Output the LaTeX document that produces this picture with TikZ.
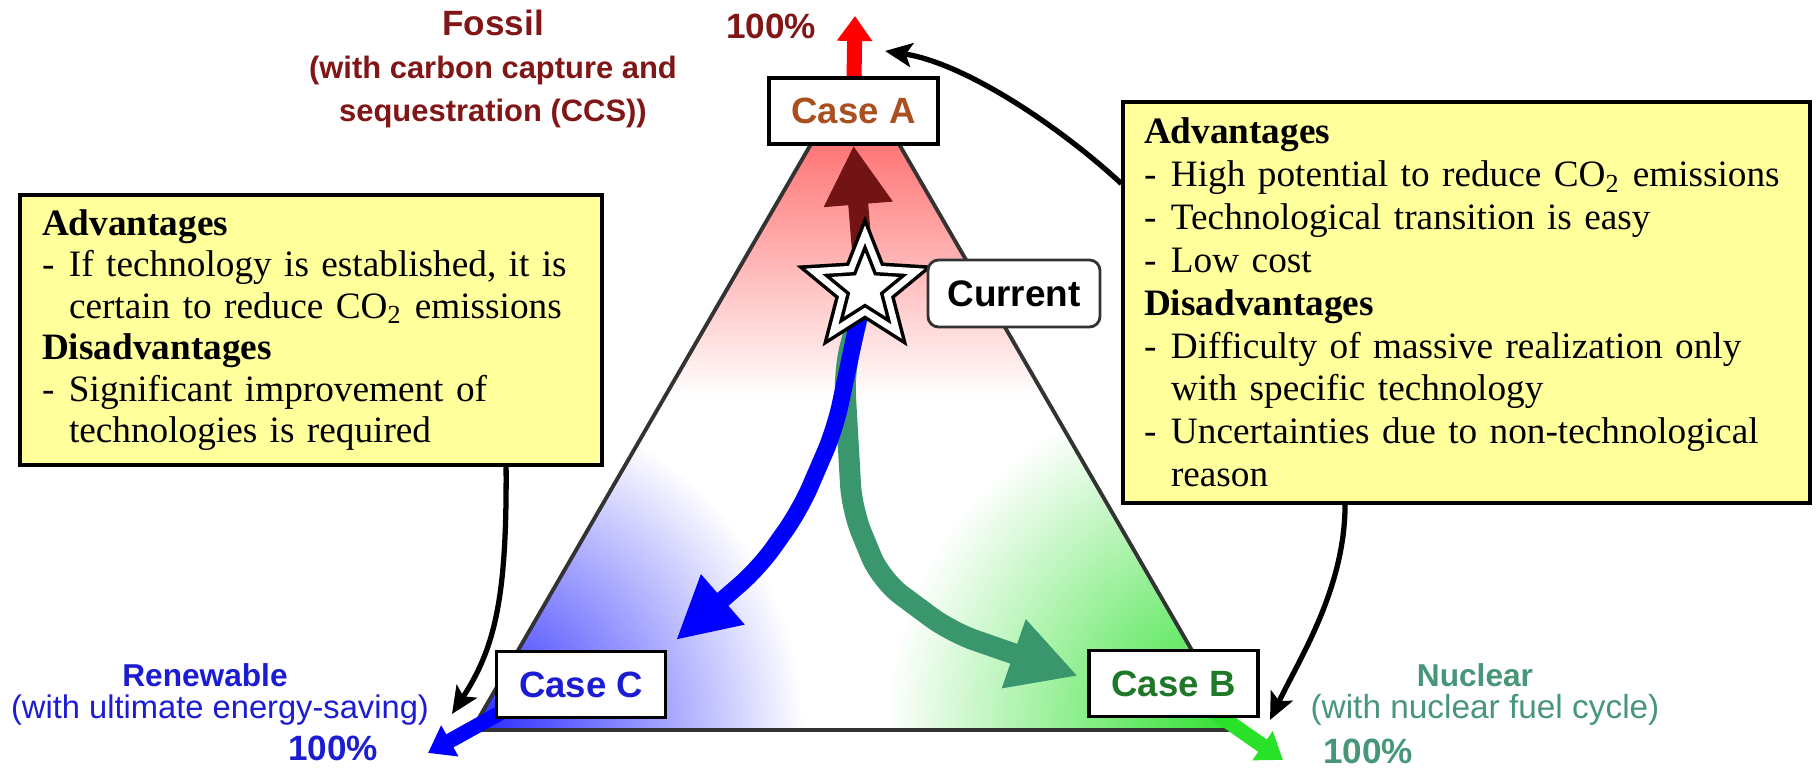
\documentclass[tikz,border=0pt]{standalone}
\usepackage{fontspec}
\setmainfont{Liberation Serif}
\setsansfont{Liberation Sans}
\usetikzlibrary{arrows.meta, shapes.geometric, fadings}

\definecolor{fossilred}{RGB}{128,22,22}
\definecolor{caseAcol}{RGB}{170,80,32}
\definecolor{renblue}{RGB}{28,28,210}
\definecolor{nucgreen}{RGB}{72,150,120}
\definecolor{caseBcol}{RGB}{30,120,40}
\definecolor{pathgreen}{RGB}{58,150,108}
\definecolor{outgreen}{RGB}{40,225,40}
\definecolor{cornergreen}{RGB}{45,225,45}
\definecolor{notebg}{RGB}{255,255,155}

\tikzfading[name = cornerfade, inner color = transparent!0, outer color = transparent!100]
\pgfdeclarelayer{back}
\pgfsetlayers{back,main}

\newcommand{\itm}{\makebox[0.27cm][l]{-}}
\newcommand{\gap}{\hspace*{0.27cm}}

\begin{document}
\begin{tikzpicture}[scale = 1,
  casebox/.style = {draw = black, fill = white, line width = 0.9pt, minimum width = 1.69cm, minimum height = 0.66cm, inner sep = 0pt, font = \fontsize{10.4}{12}\selectfont\sffamily\bfseries},
  notebox/.style = {draw = black, fill = notebg, line width = 0.9pt, align = left, inner ysep = 0pt},
  lbl/.style = {inner sep = 1pt, font = \fontsize{10}{12}\selectfont\sffamily\bfseries},
  note/.style = {inner sep = 1pt, font = \fontsize{9.3}{11}\selectfont\sffamily},
  outarrow/.style = {line width = 0.15cm, -{Triangle[length = 0.25cm, width = 0.34cm]}},
  callout/.style = {line width = 1.5pt, -{Stealth[length = 0.27cm, width = 0.24cm, inset = 0.06cm]}}]
\useasboundingbox (0.0, 0.0) rectangle (18.18, 7.68);

\coordinate (fos) at (8.55, 7.0);
\coordinate (ren) at (4.72, 0.38);
\coordinate (nuc) at (12.38, 0.38);
\coordinate (fostip) at (8.55, 7.52);
\coordinate (rentip) at (4.28, 0.15);
\coordinate (nuctip) at (12.83, 0.08);
\coordinate (renend) at (6.76, 1.28);
\coordinate (nucend) at (10.78, 0.92);

\node[casebox, text = caseAcol] (caseA) at (8.535, 6.57) {Case A};
\node[casebox, text = caseBcol] (caseB) at (11.735, 0.845) {Case B};
\node[casebox, text = renblue] (caseC) at (5.81, 0.835) {Case C};

\node[star, star points = 5, star point ratio = 2.3, minimum size = 1.08cm, inner sep = 0pt, draw = black, fill = white, double, double distance = 1.8pt, line width = 1pt] (cur) at (8.65, 4.80) {};
\node[draw = black!80, fill = white, rounded corners = 3pt, line width = 0.8pt, minimum width = 1.72cm, minimum height = 0.67cm, font = \fontsize{10.5}{12}\selectfont\sffamily\bfseries] (current) at (10.14, 4.745) {Current};

\begin{pgfonlayer}{back}
\fill[white] (fos) -- (ren) -- (nuc) -- cycle;
\begin{scope}
\clip (fos) -- (ren) -- (nuc) -- cycle;
\shade[top color = red!72, bottom color = white] (4.5, 3.7) rectangle (12.5, 7.1);
\fill[blue!85, path fading = cornerfade] (ren) circle (3.3);
\fill[cornergreen, path fading = cornerfade] (nuc) circle (3.5);
\end{scope}
\draw[black!80, line width = 1.1pt] (fos) -- (ren) -- (nuc) -- cycle;
\draw[outarrow, red] (caseA.center) -- (fostip);
\draw[outarrow, blue, shorten <= -0.25cm] (caseC.200) -- (rentip);
\draw[outarrow, outgreen] (caseB.center) -- (nuctip);
\draw[pathgreen, line width = 0.21cm, rounded corners = 0.25cm, -{Triangle[length = 0.68cm, width = 0.68cm]}] (cur.center) -- (8.44, 3.97) -- (8.52, 2.58) -- (8.81, 1.88) -- (9.51, 1.36) -- (nucend);
\draw[blue, line width = 0.17cm, rounded corners = 0.25cm, -{Triangle[length = 0.62cm, width = 0.62cm]}] (cur.center) -- (8.35, 3.39) -- (8.00, 2.58) -- (7.59, 2.00) -- (renend);
\draw[fossilred!90!black, line width = 0.2cm, -{Triangle[length = 0.59cm, width = 0.65cm]}] (cur.center) -- (caseA.south);
\end{pgfonlayer}

\node[notebox, text width = 5.38cm, inner xsep = 0.22cm, minimum height = 2.70cm, font = \fontsize{10.6}{11.8}\selectfont] (lbox) at (3.11, 4.38) {\textbf{Advantages}\\
\itm If technology is established, it is\\
\gap certain to reduce CO\textsubscript{2} emissions\\
\textbf{Disadvantages}\\
\itm Significant improvement of\\
\gap technologies is required};

\node[notebox, text width = 6.45cm, inner xsep = 0.21cm, minimum height = 4.01cm, font = \fontsize{10.6}{12.2}\selectfont] (rbox) at (14.665, 4.655) {\textbf{Advantages}\\
\itm High potential to reduce CO\textsubscript{2} emissions\\
\itm Technological transition is easy\\
\itm Low cost\\
\textbf{Disadvantages}\\
\itm\makebox[6.18cm][s]{Difficulty of massive realization only}\\
\gap with specific technology\\
\itm\makebox[6.18cm][s]{Uncertainties due to non-technological}\\
\gap reason};

\coordinate (fosarr) at (8.85, 7.17);
\coordinate (renarr) at (4.52, 0.54);
\coordinate (nucarr) at (12.70, 0.48);
\draw[callout] (rbox.161) .. controls (10.58, 6.43) and (9.64, 7.05) .. (fosarr);
\draw[callout] (lbox.325) .. controls (5.07, 1.7) and (4.95, 1.2) .. (renarr);
\draw[callout] (rbox.239) .. controls (13.45, 1.8) and (13.0, 1.1) .. (nucarr);

\node[lbl, text = fossilred, align = center, font = \fontsize{8.8}{12.2}\selectfont\sffamily\bfseries] (fossil) at (4.93, 6.99) {{\fontsize{10}{12.2}\selectfont Fossil}\\(with carbon capture and\\sequestration (CCS))};
\node[lbl, text = fossilred] (fos100) at (7.71, 7.42) {100\%};
\node[lbl, text = renblue, font = \fontsize{9}{11}\selectfont\sffamily\bfseries] (renname) at (2.05, 0.93) {Renewable};
\node[note, text = renblue] (rennote) at (2.20, 0.58) {(with ultimate energy-saving)};
\node[lbl, text = renblue] (ren100) at (3.33, 0.20) {100\%};
\node[lbl, text = nucgreen, font = \fontsize{9}{11}\selectfont\sffamily\bfseries] (nucname) at (14.75, 0.93) {Nuclear};
\node[note, text = nucgreen, font = \fontsize{9.5}{11}\selectfont\sffamily] (nucnote) at (14.85, 0.58) {(with nuclear fuel cycle)};
\node[lbl, text = nucgreen] (nuc100) at (13.68, 0.17) {100\%};
\end{tikzpicture}
\end{document}
